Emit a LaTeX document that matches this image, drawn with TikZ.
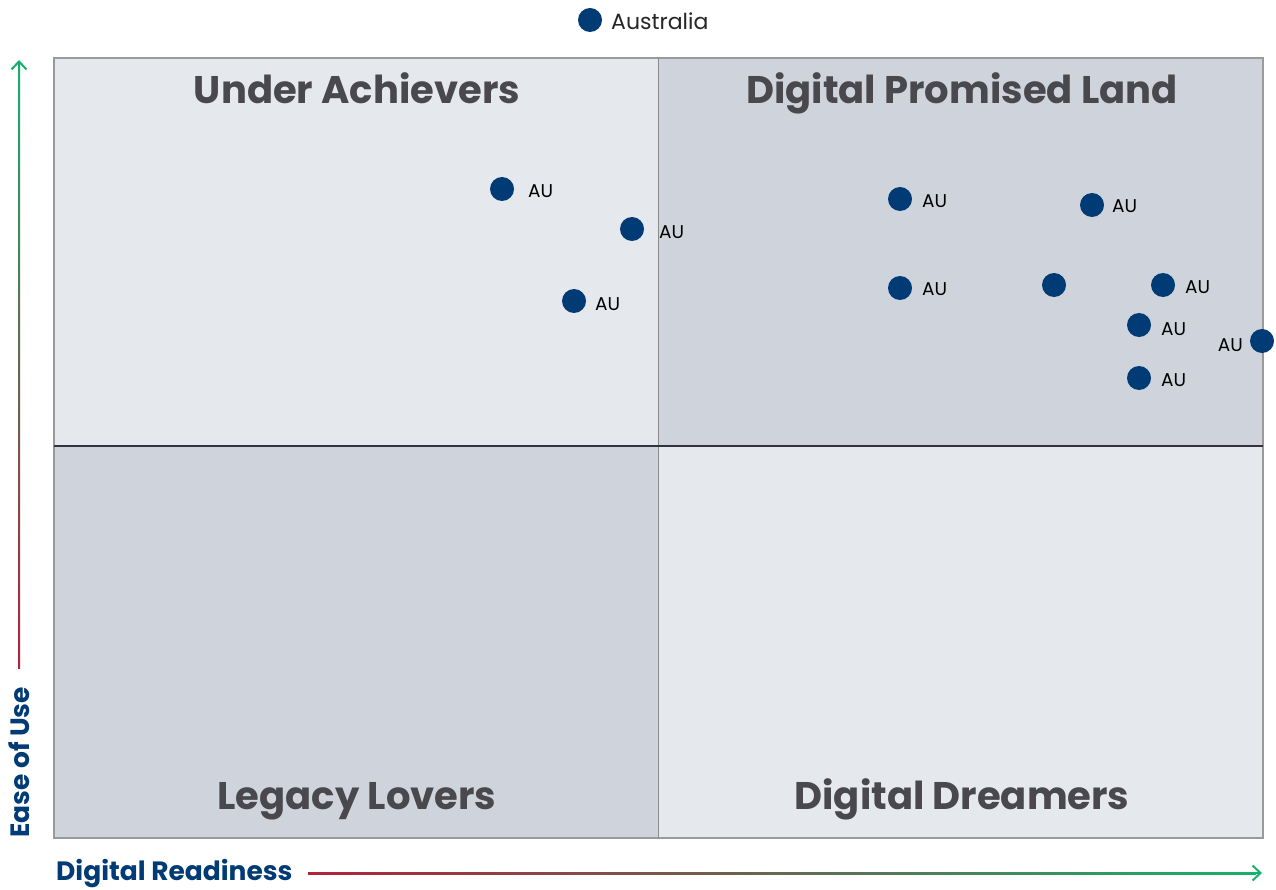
\documentclass[tikz,border=0pt]{standalone}
\usepackage{fontspec}
\setmainfont{Poppins}
\usetikzlibrary{arrows.meta}
\definecolor{qlight}{HTML}{E5E8EC}
\definecolor{qdark}{HTML}{CFD4DC}
\definecolor{frame}{HTML}{9A9A9A}
\definecolor{midline}{HTML}{33333F}
\definecolor{dotblue}{HTML}{003B75}
\definecolor{titlegray}{HTML}{48484D}
\definecolor{axred}{HTML}{B3213A}
\definecolor{axgreen}{HTML}{17B06B}
\begin{document}
\begin{tikzpicture}[x=1pt,y=-1pt,
  dot/.style={circle,fill=dotblue,minimum size=24pt,inner sep=0pt},
  aulabel/.style={font=\fontsize{18.5}{18.5}\selectfont,text=black,inner sep=0pt},
  qtitle/.style={font=\fontsize{38.5}{38.5}\selectfont\bfseries,text=titlegray,anchor=base,inner sep=0pt},
  axlabel/.style={font=\fontsize{26.5}{26.5}\selectfont\bfseries,text=dotblue,inner sep=0pt}]
\useasboundingbox[fill=white] (0,0) rectangle (1276,890);
% quadrants
\fill[qlight] (54,58) rectangle (658,446);
\fill[qdark] (658,58) rectangle (1263,446);
\fill[qdark] (54,446) rectangle (658,838);
\fill[qlight] (658,446) rectangle (1263,838);
\draw[frame,line width=1.2pt] (54,58) rectangle (1263,838);
\draw[frame!90!black,line width=1pt] (658,58) -- (658,838);
\draw[midline,line width=1.5pt] (54,446) -- (1263,446);
% titles
\node[qtitle] (ua) at (357,104) {Under Achievers};
\node[qtitle] (dpl) at (962,104) {Digital Promised Land};
\node[qtitle] (ll) at (357,809) {Legacy Lovers};
\node[qtitle] (dd) at (962,809) {Digital Dreamers};
% axes
\shade[bottom color=axred, top color=axgreen] (18,668) rectangle (20.2,62);
\coordinate (ytip) at (19,60);
\draw[axgreen,line width=2pt,-{Straight Barb[length=8pt,width=15pt]}] (19,70) -- (ytip);
\shade[left color=axred, right color=axgreen] (308,872) rectangle (1256,874.2);
\coordinate (xtip) at (1262,873);
\draw[axgreen,line width=2pt,-{Straight Barb[length=8pt,width=15pt]}] (1250,873) -- (xtip);
\node[axlabel,rotate=90,anchor=west] (eou) at (19,838) {Ease of Use};
\node[axlabel,anchor=west] (dr) at (56,874) {Digital Readiness};
% legend
\node[dot] (leg) at (590,20) {};
\node[font=\fontsize{22}{22}\selectfont,text=black!85,anchor=west,inner sep=0pt] (legt) at (611,21) {Australia};
% points
\node[dot] (p1) at (502,189) {};
\node[aulabel,anchor=west] (l1) at (528,191) {AU};
\node[dot] (p2) at (632,229) {};
\node[aulabel,anchor=west] (l2) at (659,232) {AU};
\node[dot] (p3) at (574,301) {};
\node[aulabel,anchor=west] (l3) at (595,304) {AU};
\node[dot] (p4) at (900,199) {};
\node[aulabel,anchor=west] (l4) at (922,201) {AU};
\node[dot] (p5) at (1092,205) {};
\node[aulabel,anchor=west] (l5) at (1112,206) {AU};
\node[dot] (p6) at (900,288) {};
\node[aulabel,anchor=west] (l6) at (922,289) {AU};
\node[dot] (p7) at (1054,285) {};
\node[dot] (p8) at (1163,285) {};
\node[aulabel,anchor=west] (l8) at (1185,287) {AU};
\node[dot] (p9) at (1139,325) {};
\node[aulabel,anchor=west] (l9) at (1161,329) {AU};
\node[dot] (p10) at (1262,341) {};
\node[aulabel,anchor=east] (l10) at (1243,345) {AU};
\node[dot] (p11) at (1139,378) {};
\node[aulabel,anchor=west] (l11) at (1161,380) {AU};
\end{tikzpicture}
\end{document}
